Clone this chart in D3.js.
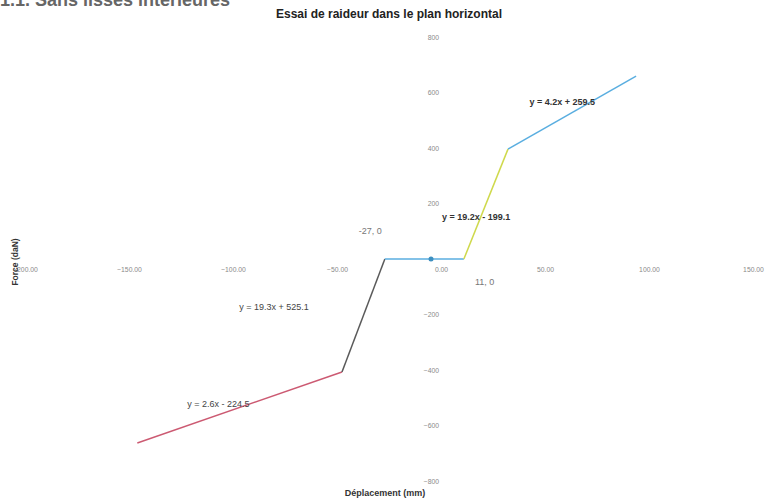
<!DOCTYPE html>
<html><head><meta charset="utf-8">
<script src="https://cdn.jsdelivr.net/npm/d3@7"></script>
<style>
html,body{margin:0;padding:0;background:#fff;overflow:hidden;}
svg{display:block;font-family:"Liberation Sans",Arial,sans-serif;}
</style></head>
<body>
<svg id="c" width="767" height="499"></svg>
<script>
// ---- data ----
const pointsX = [-146, -47.6, -27, 11, 32.2, 93.8];
const pointsY = [-663, -407, 0, 0, 396, 659];
const segmentNames = ["seg1", "seg2", "seg3", "seg4", "seg5"];
const markerX = [-4.8];
const markerY = [0];
const xTicks = [-200, -150, -100, -50, 0, 50, 100, 150];
const yTicks = [-800, -600, -400, -200, 200, 400, 600, 800];
const annotationText = ["y = 2.6x - 224.5", "y = 19.3x + 525.1", "y = 19.2x - 199.1", "y = 4.2x + 259.5", "-27, 0", "11, 0"];
const annotationX = [-122, -97, 0.5, 42.5, -34, 21];
const annotationY = [-522, -173, 151, 566, 101, -83];

// ---- styles ----
const segColors = ["#cc5a72", "#5a5a5a", "#5aaee0", "#cfd94c", "#5aaee0"];
const annStyle = [
  {w: "normal", c: "#444", a: "start"},
  {w: "normal", c: "#444", a: "start"},
  {w: "bold", c: "#333", a: "start"},
  {w: "bold", c: "#333", a: "start"},
  {w: "normal", c: "#777", a: "middle"},
  {w: "normal", c: "#777", a: "middle"}
];

const svg = d3.select("#c");
const x = d3.scaleLinear().domain([-200, 150]).range([25, 753]);
const y = d3.scaleLinear().domain([-800, 800]).range([481, 37]);

// heading (cut off at top, as in the source image)
svg.append("text").attr("x", 0).attr("y", 6)
  .attr("font-size", 18).attr("font-weight", "bold").attr("fill", "#666")
  .text("1.1. Sans lisses intérieures");

// chart title
svg.append("text").attr("x", 389).attr("y", 18).attr("text-anchor", "middle")
  .attr("font-size", 12).attr("font-weight", "bold").attr("fill", "#222")
  .text("Essai de raideur dans le plan horizontal");

// x axis (no line, labels only)
const xAxis = d3.axisBottom(x).tickValues(xTicks).tickSize(0).tickPadding(8)
  .tickFormat(d3.format(".2f"));
const gx = svg.append("g").attr("transform", `translate(0,${y(0)})`).call(xAxis);
gx.select(".domain").remove();
gx.selectAll("text").attr("font-size", 6.8).attr("fill", "#8a8a8a")
  .attr("font-family", "'Liberation Sans',Arial,sans-serif");

// y axis (labels only)
const yAxis = d3.axisLeft(y).tickValues(yTicks).tickSize(0).tickPadding(2)
  .tickFormat(d3.format("d"));
const gy = svg.append("g").attr("transform", `translate(${x(0)},0)`).call(yAxis);
gy.select(".domain").remove();
gy.selectAll("text").attr("font-size", 6.8).attr("fill", "#8a8a8a")
  .attr("font-family", "'Liberation Sans',Arial,sans-serif");

// segments
const segs = segmentNames.map((n, i) => ({
  name: n, color: segColors[i],
  pts: [[pointsX[i], pointsY[i]], [pointsX[i + 1], pointsY[i + 1]]]
}));
const line = d3.line().x(d => x(d[0])).y(d => y(d[1]));
svg.selectAll("path.seg").data(segs).enter().append("path")
  .attr("class", "seg").attr("d", d => line(d.pts))
  .attr("fill", "none").attr("stroke", d => d.color).attr("stroke-width", 1.5);

// marker
svg.selectAll("circle.mk").data(markerX.map((v, i) => [v, markerY[i]])).enter()
  .append("circle").attr("class", "mk")
  .attr("cx", d => x(d[0])).attr("cy", d => y(d[1])).attr("r", 2.5)
  .attr("fill", "#3d8fc0");

// annotations
annotationText.forEach((t, i) => {
  svg.append("text").attr("x", x(annotationX[i])).attr("y", y(annotationY[i]))
    .attr("dy", "0.35em")
    .attr("text-anchor", annStyle[i].a)
    .attr("font-size", 9).attr("font-weight", annStyle[i].w)
    .attr("fill", annStyle[i].c).text(t);
});

// axis titles
svg.append("text").attr("x", 385).attr("y", 496).attr("text-anchor", "middle")
  .attr("font-size", 9).attr("font-weight", "bold").attr("fill", "#333")
  .text("Déplacement (mm)");
svg.append("text").attr("transform", "translate(18,262) rotate(-90)")
  .attr("text-anchor", "middle")
  .attr("font-size", 8.5).attr("font-weight", "bold").attr("fill", "#333")
  .text("Force (daN)");
</script>
</body></html>
